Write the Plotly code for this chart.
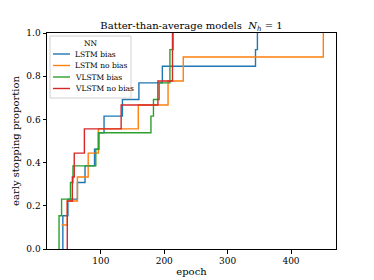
import plotly.graph_objects as go

# Data (step curves: epoch at which proportion jumps)
lstm_bias_epochs = [40, 40, 48, 63, 75, 90, 97, 105, 134, 160, 197, 344, 347]
lstm_bias_prop = [0, 0.154, 0.231, 0.308, 0.385, 0.462, 0.538, 0.615, 0.692, 0.769, 0.846, 0.923, 1.0]

lstm_nobias_epochs = [38, 47, 63, 80, 96, 159, 206, 230, 451]
lstm_nobias_prop = [0.111, 0.222, 0.333, 0.444, 0.556, 0.667, 0.778, 0.889, 1.0]

vlstm_bias_epochs = [34, 34, 38, 52, 56, 92, 96, 179, 183, 192, 209, 214]
vlstm_bias_prop = [0, 0.154, 0.231, 0.308, 0.385, 0.462, 0.538, 0.615, 0.692, 0.769, 0.923, 1.0]

vlstm_nobias_epochs = [47, 47, 55, 58, 74, 132, 190, 213]
vlstm_nobias_prop = [0, 0.222, 0.333, 0.444, 0.556, 0.667, 0.778, 1.0]

names = ["LSTM bias", "LSTM no bias", "VLSTM bias", "VLSTM no bias"]
colors = ["#1f77b4", "#ff7f0e", "#2ca02c", "#d62728"]
series = [
    (lstm_bias_epochs, lstm_bias_prop),
    (lstm_nobias_epochs, lstm_nobias_prop),
    (vlstm_bias_epochs, vlstm_bias_prop),
    (vlstm_nobias_epochs, vlstm_nobias_prop),
]

x_ticks = [100, 200, 300, 400]
y_ticks = [0.0, 0.2, 0.4, 0.6, 0.8, 1.0]

FONT = "DejaVu Serif"
W, H = 374, 280
ML, MR, MT, MB = 47, 38, 33, 31
PW, PH = W - ML - MR, H - MT - MB


def px_x(p):
    return (p - ML) / PW


def px_y(p):
    return (H - MB - p) / PH


fig = go.Figure()
for name, color, (ex, py) in zip(names, colors, series):
    fig.add_trace(go.Scatter(
        x=ex, y=py, mode="lines", name=name, showlegend=False,
        line=dict(color=color, width=1.4, shape="hv"),
    ))

# Legend drawn in matplotlib style (compact box with title "NN")
shapes = [dict(
    type="rect", xref="paper", yref="paper", layer="above",
    x0=px_x(50), x1=px_x(131), y0=px_y(98), y1=px_y(36),
    fillcolor="rgba(255,255,255,0.8)", line=dict(color="#d0d0d0", width=1),
)]
annotations = [dict(
    text="NN", xref="paper", yref="paper", x=px_x(90.5), y=px_y(43.5),
    xanchor="center", yanchor="middle", showarrow=False,
    font=dict(family=FONT, size=7.5, color="black"),
)]
row_y = [54, 65.5, 77, 88.5]
for name, color, ry in zip(names, colors, row_y):
    shapes.append(dict(
        type="line", xref="paper", yref="paper", layer="above",
        x0=px_x(53), x1=px_x(70), y0=px_y(ry), y1=px_y(ry),
        line=dict(color=color, width=1.4),
    ))
    annotations.append(dict(
        text=name, xref="paper", yref="paper", x=px_x(73), y=px_y(ry),
        xanchor="left", yanchor="middle", showarrow=False,
        font=dict(family=FONT, size=7.5, color="black"),
    ))

fig.update_layout(
    width=W, height=H,
    margin=dict(l=ML, r=MR, t=MT, b=MB, autoexpand=False),
    paper_bgcolor="white", plot_bgcolor="white",
    font=dict(family=FONT, size=9, color="black"),
    title=dict(
        text="Batter-than-average models  <i>N</i><sub><i>h</i></sub> = 1",
        xref="paper", x=0.5, xanchor="center",
        yref="container", y=1 - 25.5 / H, yanchor="middle",
        font=dict(family=FONT, size=10, color="black"),
    ),
    showlegend=False,
    shapes=shapes,
    annotations=annotations,
    xaxis=dict(
        range=[15, 471], tickvals=x_ticks, ticktext=[str(v) for v in x_ticks],
        ticks="outside", ticklen=3.5, tickwidth=0.8, tickcolor="black",
        showline=True, linecolor="black", linewidth=1, mirror=True,
        showgrid=False, zeroline=False,
        title=dict(text="epoch", font=dict(family=FONT, size=10), standoff=2),
        tickfont=dict(family=FONT, size=9),
    ),
    yaxis=dict(
        range=[0, 1], tickvals=y_ticks, ticktext=[f"{v:.1f}" for v in y_ticks],
        ticks="outside", ticklen=3.5, tickwidth=0.8, tickcolor="black",
        showline=True, linecolor="black", linewidth=1, mirror=True,
        showgrid=False, zeroline=False,
        title=dict(text="early stopping proportion", font=dict(family=FONT, size=10), standoff=4),
        tickfont=dict(family=FONT, size=9),
    ),
)

fig.write_html(
    "out.html",
    config={"displayModeBar": False},
    post_script="document.body.style.margin='0px';document.body.style.overflow='hidden';",
)
